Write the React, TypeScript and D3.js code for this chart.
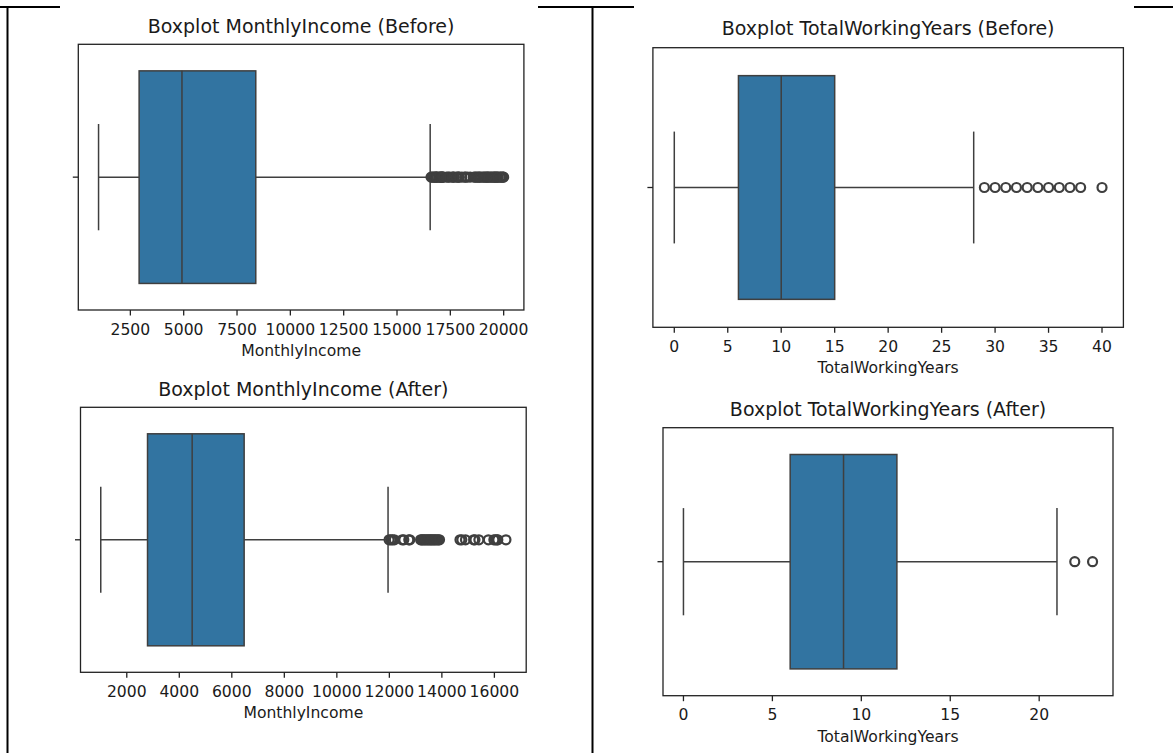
import React from "react";
import * as d3 from "d3";

// five-number summaries: [lower whisker, Q1, median, Q3, upper whisker]
const incomeBefore = [1009, 2911, 4919, 8379, 16555];
const incomeBeforeOutliers = [
  16595, 16642, 16704, 16752, 16799, 16835, 16856, 16880, 16959, 17007, 17046, 17068,
  17099, 17123, 17159, 17174, 17328, 17399, 17465, 17584, 17639, 17665, 17779, 17856,
  17875, 17924, 18041, 18172, 18213, 18300, 18430, 18606, 18665, 18722, 18789, 18844,
  18880, 18947, 19033, 19081, 19141, 19189, 19237, 19272, 19317, 19392, 19431, 19502,
  19545, 19586, 19626, 19665, 19717, 19740, 19833, 19859, 19926, 19973, 19999,
];
const incomeBeforeTicks = [2500, 5000, 7500, 10000, 12500, 15000, 17500, 20000];

const incomeAfter = [1009, 2790, 4490, 6470, 11950];
const incomeAfterOutliers = [
  11990, 12060, 12120, 12190, 12490, 12550, 12740, 12780, 13190, 13230, 13270, 13320,
  13360, 13410, 13460, 13500, 13550, 13590, 13630, 13680, 13720, 13770, 13820, 13870,
  13910, 14690, 14760, 14900, 15210, 15260, 15410, 15770, 15980, 16040, 16100, 16130,
  16440,
];
const incomeAfterTicks = [2000, 4000, 6000, 8000, 10000, 12000, 14000, 16000];

const yearsBefore = [0, 6, 10, 15, 28];
const yearsBeforeOutliers = [29, 30, 31, 32, 33, 34, 35, 36, 37, 38, 40];
const yearsBeforeTicks = [0, 5, 10, 15, 20, 25, 30, 35, 40];

const yearsAfter = [0, 6, 9, 12, 21];
const yearsAfterOutliers = [22, 23];
const yearsAfterTicks = [0, 5, 10, 15, 20];

const FONT = "'DejaVu Sans', sans-serif";
const BOX_FILL = "#3274a1";
const LINE = "#3f3f3f";

type Frame = { x0: number; x1: number; y0: number; y1: number; titleDy: number };

const BoxPanel = ({
  stats,
  outliers,
  ticks,
  title,
  label,
  frame,
}: {
  stats: number[];
  outliers: number[];
  ticks: number[];
  title: string;
  label: string;
  frame: Frame;
}) => {
  const all = [stats[0], stats[4], ...outliers];
  const lo = d3.min(all)!;
  const hi = d3.max(all)!;
  const pad = (hi - lo) * 0.05;
  const x = d3.scaleLinear().domain([lo - pad, hi + pad]).range([frame.x0, frame.x1]);
  const y = d3.scaleLinear().domain([-0.5, 0.5]).range([frame.y0, frame.y1]);
  const [wLo, q1, med, q3, wHi] = stats;
  const cx = (frame.x0 + frame.x1) / 2;

  return (
    <g>
      <text
        x={cx}
        y={frame.y0 + frame.titleDy}
        textAnchor="middle"
        fontSize={19}
        fontFamily={FONT}
        fill="#1a1a1a"
      >
        {title}
      </text>
      {/* whiskers */}
      <line x1={x(wLo)} x2={x(q1)} y1={y(0)} y2={y(0)} stroke={LINE} strokeWidth={1.5} />
      <line x1={x(q3)} x2={x(wHi)} y1={y(0)} y2={y(0)} stroke={LINE} strokeWidth={1.5} />
      <line x1={x(wLo)} x2={x(wLo)} y1={y(-0.2)} y2={y(0.2)} stroke={LINE} strokeWidth={1.5} />
      <line x1={x(wHi)} x2={x(wHi)} y1={y(-0.2)} y2={y(0.2)} stroke={LINE} strokeWidth={1.5} />
      <rect
        x={x(q1)}
        y={y(-0.4)}
        width={x(q3) - x(q1)}
        height={y(0.4) - y(-0.4)}
        fill={BOX_FILL}
        stroke={LINE}
        strokeWidth={1.5}
      />
      <line x1={x(med)} x2={x(med)} y1={y(-0.4)} y2={y(0.4)} stroke={LINE} strokeWidth={1.5} />
      {outliers.map((v, i) => (
        <circle key={i} cx={x(v)} cy={y(0)} r={4.5} fill="none" stroke={LINE} strokeWidth={2.2} />
      ))}
      {/* frame */}
      <rect
        x={frame.x0}
        y={frame.y0}
        width={frame.x1 - frame.x0}
        height={frame.y1 - frame.y0}
        fill="none"
        stroke="#222"
        strokeWidth={1.3}
      />
      <line x1={frame.x0 - 5.5} x2={frame.x0} y1={y(0)} y2={y(0)} stroke="#222" strokeWidth={1.3} />
      {ticks.map((t) => (
        <g key={t}>
          <line x1={x(t)} x2={x(t)} y1={frame.y1} y2={frame.y1 + 5.5} stroke="#222" strokeWidth={1.3} />
          <text
            x={x(t)}
            y={frame.y1 + 24.5}
            textAnchor="middle"
            fontSize={15.6}
            fontFamily={FONT}
            fill="#1a1a1a"
          >
            {t}
          </text>
        </g>
      ))}
      <text
        x={cx}
        y={frame.y1 + 46}
        textAnchor="middle"
        fontSize={15.6}
        fontFamily={FONT}
        fill="#1a1a1a"
      >
        {label}
      </text>
    </g>
  );
};

const App = () => {
  return (
    <div style={{ position: "absolute", left: 0, top: 0 }}>
      <svg width={1173} height={753} style={{ display: "block", background: "#fff" }}>
        {/* table borders */}
        <line x1={0} x2={60} y1={7} y2={7} stroke="#000" strokeWidth={2} />
        <line x1={538} x2={634} y1={7} y2={7} stroke="#000" strokeWidth={2} />
        <line x1={1134} x2={1173} y1={7} y2={7} stroke="#000" strokeWidth={2} />
        <line x1={7.5} x2={7.5} y1={6} y2={753} stroke="#000" strokeWidth={2} />
        <line x1={592.5} x2={592.5} y1={6} y2={753} stroke="#000" strokeWidth={2} />

        <BoxPanel
          stats={incomeBefore}
          outliers={incomeBeforeOutliers}
          ticks={incomeBeforeTicks}
          title="Boxplot MonthlyIncome (Before)"
          label="MonthlyIncome"
          frame={{ x0: 78.3, x1: 523.9, y0: 44.3, y1: 310, titleDy: -11 }}
        />
        <BoxPanel
          stats={yearsBefore}
          outliers={yearsBeforeOutliers}
          ticks={yearsBeforeTicks}
          title="Boxplot TotalWorkingYears (Before)"
          label="TotalWorkingYears"
          frame={{ x0: 652.9, x1: 1123.4, y0: 47.7, y1: 327.3, titleDy: -13 }}
        />
        <BoxPanel
          stats={incomeAfter}
          outliers={incomeAfterOutliers}
          ticks={incomeAfterTicks}
          title="Boxplot MonthlyIncome (After)"
          label="MonthlyIncome"
          frame={{ x0: 80.5, x1: 526.2, y0: 407.3, y1: 672.3, titleDy: -11.5 }}
        />
        <BoxPanel
          stats={yearsAfter}
          outliers={yearsAfterOutliers}
          ticks={yearsAfterTicks}
          title="Boxplot TotalWorkingYears (After)"
          label="TotalWorkingYears"
          frame={{ x0: 663, x1: 1113, y0: 427.7, y1: 695.7, titleDy: -12 }}
        />
      </svg>
    </div>
  );
};

export default App;
